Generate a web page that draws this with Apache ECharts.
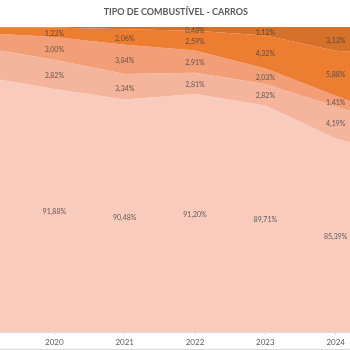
<!DOCTYPE html>
<html><head><meta charset="utf-8">
<script src="https://cdn.jsdelivr.net/npm/echarts@6/dist/echarts.min.js"></script>
<style>
html,body{margin:0;padding:0;background:#fff;overflow:hidden;width:350px;height:350px}
#wrap{position:relative;width:350px;height:350px;overflow:hidden}
#c{position:absolute;left:-18.8px;top:0;width:427.8px;height:350px}
#frame{position:absolute;left:0;top:349px;width:350px;height:1px;background:#d9d9d9}
</style>
</head><body><div id="wrap"><div id="c"></div><div id="frame"></div></div>
<script>
// Categories (2019 and 2025 lie just outside the cropped frame; values estimated from the edges)
const anos = ['2019','2020','2021','2022','2023','2024','2025'];
const visiveis = ['2020','2021','2022','2023','2024'];
// Series values (%), bottom to top
const serie1 = [93.45, 91.88, 90.48, 91.20, 89.71, 85.39, 82.78];
const serie2 = [3.80, 3.82, 3.34, 2.81, 2.82, 4.19, 4.00];
const serie3 = [1.95, 3.00, 3.84, 2.91, 2.03, 1.41, 0.87];
const serie4 = [0.77, 1.23, 2.06, 2.59, 4.32, 5.88, 8.60];
const serie5 = [0.03, 0.07, 0.28, 0.48, 1.12, 3.13, 3.75];
const titulo = 'TIPO DE COMBUSTÍVEL - CARROS';

const series = [serie1, serie2, serie3, serie4, serie5];
const nomes = ['Série 1','Série 2','Série 3','Série 4','Série 5'];
const cores = ['#F8CBBD','#F5B59D','#F29F78','#ED7D31','#D6712A'];
const yMin = 60, yMax = 100;

function fmt(v){ return v.toFixed(2).replace('.', ',') + '%'; }

const areaSeries = series.map((s, k) => ({
  name: nomes[k], type: 'line', stack: 'total', data: s,
  symbol: 'none', lineStyle: {width: 0}, silent: true,
  areaStyle: {color: cores[k], opacity: 1}, z: 1
}));

const labelSeries = series.map((s, k) => ({
  type: 'scatter', symbolSize: 1, silent: true, z: 5,
  itemStyle: {color: 'rgba(0,0,0,0)'},
  data: s.map((v, i) => {
    let below = 0;
    for (let j = 0; j < k; j++) below += series[j][i];
    const lo = Math.max(below, yMin);
    return [i, (lo + below + v) / 2];
  }),
  label: {
    show: true, position: 'inside', offset: [0, 1.5],
    fontFamily: 'Lato', fontSize: 7, color: '#404040',
    formatter: p => (visiveis.indexOf(anos[p.dataIndex]) < 0 || s[p.dataIndex] < 0.3) ? '' : fmt(s[p.dataIndex])
  }
}));

const chart = echarts.init(document.getElementById('c'), null, {renderer: 'canvas'});
chart.setOption({
  animation: false,
  backgroundColor: '#ffffff',
  title: {
    text: titulo, left: 18.8 + 176, top: 8, padding: 0, textAlign: 'center',
    textStyle: {fontFamily: 'Lato', fontSize: 9, fontWeight: 'bold', color: '#595959'}
  },
  grid: {left: 0, right: 0, top: 27, bottom: 18},
  xAxis: {
    type: 'category', data: anos, boundaryGap: false,
    axisLine: {lineStyle: {color: '#d9d9d9'}},
    axisTick: {show: true, length: 3, lineStyle: {color: '#d9d9d9'}},
    axisLabel: {fontFamily: 'Lato', fontSize: 8, color: '#595959', margin: 6,
      formatter: v => (visiveis.indexOf(v) < 0 ? '' : v)}
  },
  yAxis: {type: 'value', min: yMin, max: yMax, show: false},
  series: areaSeries.concat(labelSeries)
});
</script></body></html>
